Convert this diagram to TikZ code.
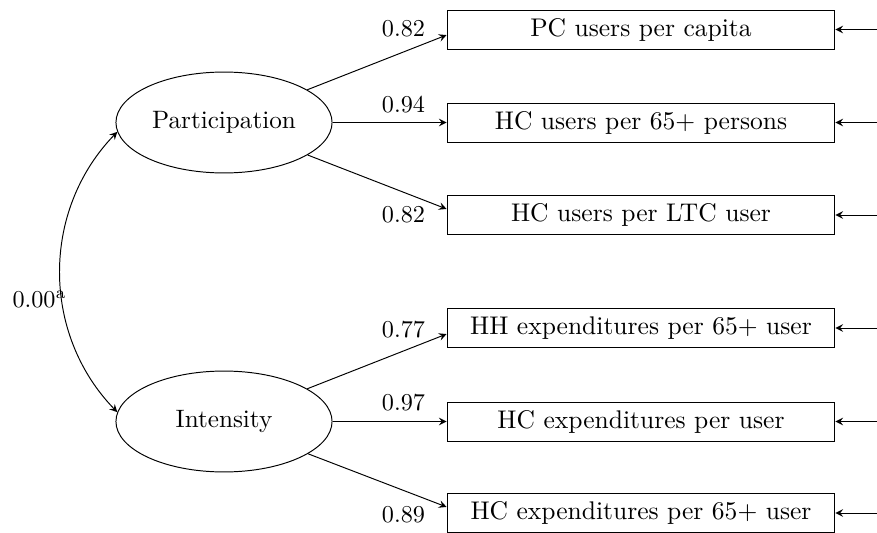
\documentclass[tikz,border=0pt]{standalone}
\usetikzlibrary{shapes.geometric}
\begin{document}
\begin{tikzpicture}[x=0.4132pt,y=0.4132pt,>=stealth,
  latent/.style={draw,ellipse,minimum width=89.3pt,minimum height=41.7pt,inner sep=0pt,
    font=\fontsize{10.4pt}{12pt}\selectfont},
  manifest/.style={draw,rectangle,minimum width=160.3pt,minimum height=16.1pt,inner sep=0pt,
    font=\fontsize{10.55pt}{12pt}\selectfont}]
  \useasboundingbox (0,0) rectangle (877,-533);
  % latent factors
  \node[latent] (part) at (224,-122.5) {Participation};
  \node[latent] (inten) at (224,-421.5) {Intensity};
  % indicators
  \node[manifest] (pcu) at (641,-29.5) {PC users per capita};
  \node[manifest] (hcu) at (641,-122.5) {HC users per 65+ persons};
  \node[manifest] (hcl) at (641,-215) {HC users per LTC user};
  \node[manifest] (hhe) at (641,-328) {HH expenditures per 65+ user};
  \node[manifest] (hce) at (641,-421.5) {HC expenditures per user};
  \node[manifest] (hcf) at (641,-513) {HC expenditures per 65+ user};
  % error terms
  \coordinate (epcu) at (877,-29.5);
  \coordinate (ehcu) at (877,-122.5);
  \coordinate (ehcl) at (877,-215);
  \coordinate (ehhe) at (877,-328);
  \coordinate (ehce) at (877,-421.5);
  \coordinate (ehcf) at (877,-513);
  \foreach \m in {pcu,hcu,hcl,hhe,hce,hcf}
    \draw[->] (e\m) -- (\m);
  % loadings
  \draw[->] (part) -- ([yshift=-2.3pt]pcu.west);
  \draw[->] (part) -- (hcu);
  \draw[->] (part) -- ([yshift=2.5pt]hcl.west);
  \draw[->] (inten) -- ([yshift=-2.5pt]hhe.west);
  \draw[->] (inten) -- (hce);
  \draw[->] (inten) -- ([yshift=2.5pt]hcf.west);
  \node at (403.5,-29) {0.82};
  \node at (403.5,-105) {0.94};
  \node at (403.5,-215) {0.82};
  \node at (403.5,-329.5) {0.77};
  \node at (403.5,-403) {0.97};
  \node at (403.5,-515) {0.89};
  % correlation
  \draw[<->] (part.185) to[bend right=44] (inten.175);
  \node[anchor=base west] at (4,-307) {0.00$^{\mathrm{a}}$};
\end{tikzpicture}
\end{document}
